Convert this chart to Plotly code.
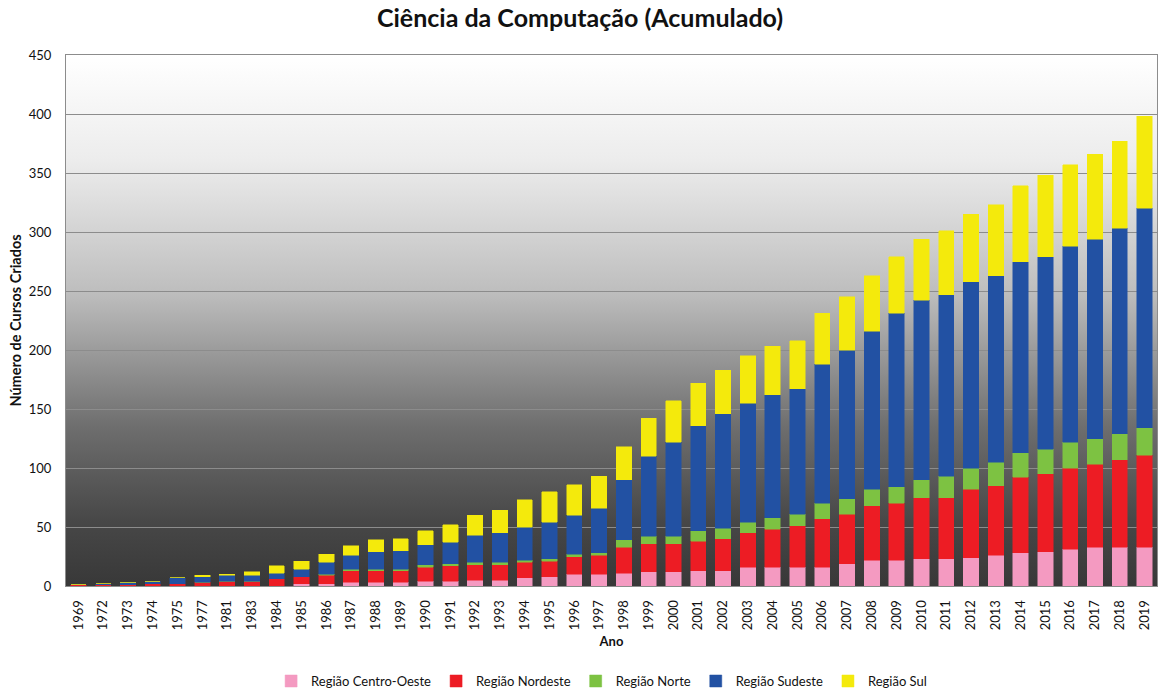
import base64

import plotly.graph_objects as go

anos = ["1969", "1972", "1973", "1974", "1975", "1977", "1981", "1983",
        "1984", "1985", "1986", "1987", "1988", "1989", "1990", "1991",
        "1992", "1993", "1994", "1995", "1996", "1997", "1998", "1999",
        "2000", "2001", "2002", "2003", "2004", "2005", "2006", "2007",
        "2008", "2009", "2010", "2011", "2012", "2013", "2014", "2015",
        "2016", "2017", "2018", "2019"]

centro_oeste = [0, 0, 0, 0, 0, 0, 0, 0, 0, 2, 2, 3, 3, 3, 4, 4, 5, 5, 7, 8, 10, 10,
                11, 12, 12, 13, 13, 16, 16, 16, 16, 19, 22, 22, 23, 23, 24, 26, 28, 29,
                31, 33, 33, 33]
nordeste = [1, 1, 1, 2, 2, 3, 4, 4, 6, 6, 7, 10, 10, 10, 12, 13, 13, 13, 13, 13, 15, 16,
            22, 24, 24, 25, 27, 29, 32, 35, 41, 42, 46, 48, 52, 52, 58, 59, 64, 66,
            69, 70, 74, 78]
norte = [0, 0, 0, 0, 0, 0, 0, 0, 0, 0, 1, 1, 1, 1, 2, 2, 2, 2, 2, 2, 2, 2,
         6, 6, 6, 9, 9, 9, 10, 10, 13, 13, 14, 14, 15, 18, 18, 20, 21, 21,
         22, 22, 22, 23]
sudeste = [0, 1, 2, 2, 5, 5, 5, 5, 5, 6, 10, 12, 15, 16, 17, 18, 23, 25, 28, 31, 33, 38,
           51, 68, 80, 89, 97, 101, 104, 106, 118, 126, 134, 147, 152, 154, 158, 158, 162, 163,
           166, 169, 174, 186]
sul = [0, 0, 0, 0, 0, 1, 1, 3, 6, 7, 7, 8, 10, 10, 12, 15, 17, 19, 23, 26, 26, 27,
       28, 32, 35, 36, 37, 40, 41, 41, 43, 45, 47, 48, 52, 54, 57, 60, 64, 69,
       69, 72, 74, 78]

series = [
    ("Região Centro-Oeste", centro_oeste, "#f49ac1"),
    ("Região Nordeste", nordeste, "#ed1c24"),
    ("Região Norte", norte, "#7dc242"),
    ("Região Sudeste", sudeste, "#2251a3"),
    ("Região Sul", sul, "#f4ea0c"),
]

FONT = "Lato, 'Open Sans', sans-serif"

# fundo em degrade (branco em cima, cinza escuro embaixo)
svg = ('<svg xmlns="http://www.w3.org/2000/svg" width="100" height="100" preserveAspectRatio="none">'
       '<defs><linearGradient id="g" x1="0" y1="0" x2="0" y2="1">'
       '<stop offset="0" stop-color="#ffffff"/>'
       '<stop offset="0.2" stop-color="#ececec"/>'
       '<stop offset="0.45" stop-color="#bdbdbd"/>'
       '<stop offset="0.7" stop-color="#6e6e6e"/>'
       '<stop offset="0.88" stop-color="#474747"/>'
       '<stop offset="1" stop-color="#383838"/>'
       '</linearGradient></defs>'
       '<rect width="100" height="100" fill="url(#g)"/></svg>')
bg = "data:image/svg+xml;base64," + base64.b64encode(svg.encode()).decode()

traces = []
for name, values, color in series:
    traces.append(go.Bar(x=anos, y=values, name=name,
                         marker=dict(color=color, line=dict(color=color, width=0.5))))

layout = go.Layout(
    title=dict(text="<b>Ciência da Computação (Acumulado)</b>", x=0.5, xanchor="center",
               y=0.974, yanchor="middle", font=dict(family=FONT, size=25, color="#111")),
    barmode="stack",
    bargap=0.38,
    width=1160, height=693,
    margin=dict(l=66, r=3, t=55, b=107, autoexpand=False),
    paper_bgcolor="white",
    plot_bgcolor="rgba(0,0,0,0)",
    font=dict(family=FONT, size=13, color="#111"),
    images=[dict(source=bg, xref="paper", yref="paper", x=0, y=1, sizex=1, sizey=1,
                 sizing="stretch", layer="below")],
    xaxis=dict(type="category", tickangle=-90, showline=True, linecolor="#8c8c8c",
               mirror=True, showgrid=False, ticks="outside", ticklen=8,
               tickcolor="rgba(0,0,0,0)", tickfont=dict(size=13),
               title=dict(text="<b>Ano</b>", font=dict(size=13), standoff=7)),
    yaxis=dict(range=[0, 450], dtick=50, showgrid=True, gridcolor="#8c8c8c", gridwidth=1,
               showline=True, linecolor="#8c8c8c", mirror=True, ticks="outside", ticklen=11,
               tickcolor="rgba(0,0,0,0)", zeroline=False, tickfont=dict(size=13),
               title=dict(text="<b>Número de Cursos Criados</b>", font=dict(size=14.5), standoff=3)),
    legend=dict(orientation="h", x=0.188, xanchor="left", y=-0.179, yanchor="middle",
                font=dict(size=13), traceorder="normal"),
    showlegend=True,
)

fig = go.Figure(data=traces, layout=layout)
fig.write_html("out.html", config={"displayModeBar": False},
               post_script="document.body.style.margin='0px';")
